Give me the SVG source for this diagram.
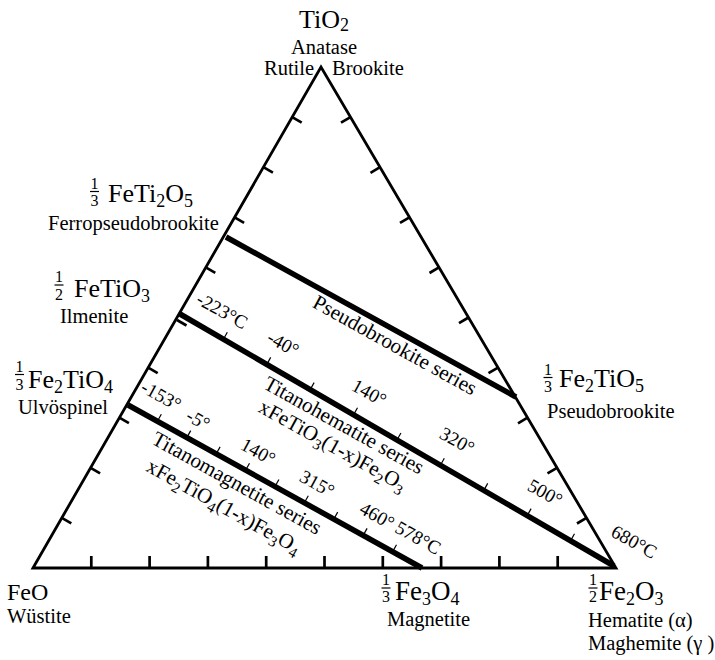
<svg xmlns="http://www.w3.org/2000/svg" width="715" height="660" viewBox="0 0 715 660">
<style>
.f{font-family:"Liberation Serif","Times New Roman",serif;fill:#000}
.fm{font-size:26px}
.fb{font-size:27px}
.sub{font-size:18px}
.nm{font-size:20.5px}
.fr{font-size:16px}
.tp{font-size:19px}
.sl{font-size:21px}
.ss{font-size:15px}
.edge{stroke:#000;stroke-width:2.8;fill:none;stroke-linejoin:miter}
.tk{stroke:#000;stroke-width:2.7}
.ser{stroke:#000;stroke-width:5.5}
.tt{stroke:#000;stroke-width:1.2}
.bar{stroke:#000;stroke-width:1.2}
</style>
<rect width="715" height="660" fill="#fff"/>
<g id="connectors">
  <polygon class="edge" points="33,568 321,67 616,568"/>
  <g id="edge-ticks">
    <line class="tk" x1="61.8" y1="517.9" x2="71.3" y2="523.4"/>
    <line class="tk" x1="90.6" y1="467.8" x2="100.1" y2="473.3"/>
    <line class="tk" x1="119.4" y1="417.7" x2="128.9" y2="423.2"/>
    <line class="tk" x1="148.2" y1="367.6" x2="157.7" y2="373.1"/>
    <line class="tk" x1="177" y1="320" x2="186.5" y2="325.5"/>
    <line class="tk" x1="205.8" y1="267.4" x2="215.3" y2="272.9"/>
    <line class="tk" x1="234.6" y1="217.3" x2="244.1" y2="222.8"/>
    <line class="tk" x1="263.4" y1="167.2" x2="272.9" y2="172.7"/>
    <line class="tk" x1="292.2" y1="117.1" x2="301.7" y2="122.6"/>
    <line class="tk" x1="350.5" y1="117.1" x2="341" y2="122.7"/>
    <line class="tk" x1="380" y1="167.2" x2="370.5" y2="172.8"/>
    <line class="tk" x1="409.5" y1="217.3" x2="400" y2="222.9"/>
    <line class="tk" x1="439" y1="267.4" x2="429.5" y2="273"/>
    <line class="tk" x1="468.5" y1="317.5" x2="459" y2="323.1"/>
    <line class="tk" x1="498" y1="367.6" x2="488.5" y2="373.2"/>
    <line class="tk" x1="527.5" y1="417.7" x2="518" y2="423.3"/>
    <line class="tk" x1="557" y1="467.8" x2="547.5" y2="473.4"/>
    <line class="tk" x1="586.5" y1="517.9" x2="577" y2="523.5"/>
    <line class="tk" x1="91.3" y1="568" x2="91.3" y2="556"/>
    <line class="tk" x1="149.6" y1="568" x2="149.6" y2="556"/>
    <line class="tk" x1="207.9" y1="568" x2="207.9" y2="556"/>
    <line class="tk" x1="266.2" y1="568" x2="266.2" y2="556"/>
    <line class="tk" x1="324.5" y1="568" x2="324.5" y2="556"/>
    <line class="tk" x1="382.8" y1="568" x2="382.8" y2="556"/>
    <line class="tk" x1="441.1" y1="568" x2="441.1" y2="556"/>
    <line class="tk" x1="499.4" y1="568" x2="499.4" y2="556"/>
    <line class="tk" x1="557.7" y1="568" x2="557.7" y2="556"/>
  </g>
  <g id="pseudobrookite-series">
    <line class="ser" x1="226" y1="237" x2="516" y2="397"/>
    <text class="f sl" transform="translate(395,345) rotate(29)" text-anchor="middle" y="7">Pseudobrookite series</text>
  </g>
  <g id="titanohematite-series">
    <line class="ser" x1="180" y1="314" x2="614" y2="566"/>
    <line class="tt" x1="223.4" y1="339.2" x2="227.3" y2="332.2"/>
    <line class="tt" x1="266.8" y1="364.4" x2="270.7" y2="357.4"/>
    <line class="tt" x1="310.2" y1="389.6" x2="314.1" y2="382.6"/>
    <line class="tt" x1="353.6" y1="414.8" x2="357.5" y2="407.8"/>
    <line class="tt" x1="397" y1="440" x2="400.9" y2="433"/>
    <line class="tt" x1="440.4" y1="465.2" x2="444.3" y2="458.2"/>
    <line class="tt" x1="483.8" y1="490.4" x2="487.7" y2="483.4"/>
    <line class="tt" x1="527.2" y1="515.6" x2="531.1" y2="508.6"/>
    <line class="tt" x1="570.6" y1="540.8" x2="574.5" y2="533.8"/>
    <text class="f tp" transform="translate(222,311) rotate(29)" text-anchor="middle" y="6">-223°C</text>
    <text class="f tp" transform="translate(283,344) rotate(29)" text-anchor="middle" y="6">-40°</text>
    <text class="f tp" transform="translate(369,393) rotate(29)" text-anchor="middle" y="6">140°</text>
    <text class="f tp" transform="translate(457,441) rotate(29)" text-anchor="middle" y="6">320°</text>
    <text class="f tp" transform="translate(545,493) rotate(29)" text-anchor="middle" y="6">500°</text>
    <text class="f tp" transform="translate(634,542) rotate(29)" text-anchor="middle" y="6">680°C</text>
    <text class="f sl" transform="translate(344,425) rotate(29)" text-anchor="middle" y="7">Titanohematite series</text>
    <text class="f sl" transform="translate(332,447) rotate(29)" text-anchor="middle" y="5">xFeTiO<tspan class="ss" dy="5">3</tspan><tspan dy="-5">(1-x)Fe</tspan><tspan class="ss" dy="5">2</tspan><tspan dy="-5">O</tspan><tspan class="ss" dy="5">3</tspan></text>
  </g>
  <g id="titanomagnetite-series">
    <line class="ser" x1="128" y1="405" x2="422" y2="568"/>
    <line class="tt" x1="157.4" y1="421.3" x2="161.3" y2="414.3"/>
    <line class="tt" x1="186.8" y1="437.6" x2="190.7" y2="430.6"/>
    <line class="tt" x1="216.2" y1="453.9" x2="220.1" y2="446.9"/>
    <line class="tt" x1="245.6" y1="470.2" x2="249.5" y2="463.2"/>
    <line class="tt" x1="275" y1="486.5" x2="278.9" y2="479.5"/>
    <line class="tt" x1="304.4" y1="502.8" x2="308.3" y2="495.8"/>
    <line class="tt" x1="333.8" y1="519.1" x2="337.7" y2="512.1"/>
    <line class="tt" x1="363.2" y1="535.4" x2="367.1" y2="528.4"/>
    <line class="tt" x1="392.6" y1="551.7" x2="396.5" y2="544.7"/>
    <text class="f tp" transform="translate(161,396) rotate(29)" text-anchor="middle" y="6">-153°</text>
    <text class="f tp" transform="translate(198,420) rotate(29)" text-anchor="middle" y="6">-5°</text>
    <text class="f tp" transform="translate(258,452) rotate(29)" text-anchor="middle" y="6">140°</text>
    <text class="f tp" transform="translate(317,484) rotate(29)" text-anchor="middle" y="6">315°</text>
    <text class="f tp" transform="translate(377,516) rotate(29)" text-anchor="middle" y="6">460°</text>
    <text class="f tp" transform="translate(418,538) rotate(29)" text-anchor="middle" y="6">578°C</text>
    <text class="f sl" transform="translate(237,483) rotate(29)" text-anchor="middle" y="7">Titanomagnetite series</text>
    <text class="f sl" transform="translate(223,508) rotate(29)" text-anchor="middle" y="5">xFe<tspan class="ss" dy="5">2</tspan><tspan dy="-5">TiO</tspan><tspan class="ss" dy="5">4</tspan><tspan dy="-5">(1-x)Fe</tspan><tspan class="ss" dy="5">3</tspan><tspan dy="-5">O</tspan><tspan class="ss" dy="5">4</tspan></text>
  </g>
</g>
<g id="node-TiO2">
  <text class="f fm" x="299" y="28">TiO<tspan class="sub" dy="3">2</tspan></text>
  <text class="f nm" x="324" y="54" text-anchor="middle">Anatase</text>
  <text class="f nm" x="264" y="75">Rutile</text>
  <text class="f nm" x="332" y="75">Brookite</text>
</g>
<g id="node-FeTi2O5">
  <text class="f fr" x="94.5" y="189" text-anchor="middle">1</text>
  <line class="bar" x1="90" y1="191.5" x2="99" y2="191.5"/>
  <text class="f fr" x="94.5" y="206" text-anchor="middle">3</text>
  <text class="f fm" x="108" y="202">FeTi<tspan class="sub" dy="5">2</tspan><tspan dy="-5">O</tspan><tspan class="sub" dy="5">5</tspan></text>
  <text class="f nm" x="48" y="230">Ferropseudobrookite</text>
</g>
<g id="node-FeTiO3">
  <text class="f fr" x="59" y="282" text-anchor="middle">1</text>
  <line class="bar" x1="54.5" y1="285" x2="63.5" y2="285"/>
  <text class="f fr" x="59" y="300" text-anchor="middle">2</text>
  <text class="f fm" x="74" y="297">FeTiO<tspan class="sub" dy="5">3</tspan></text>
  <text class="f nm" x="60" y="323">Ilmenite</text>
</g>
<g id="node-Fe2TiO4">
  <text class="f fr" x="19.5" y="372" text-anchor="middle">1</text>
  <line class="bar" x1="15" y1="374.5" x2="24" y2="374.5"/>
  <text class="f fr" x="19.5" y="390" text-anchor="middle">3</text>
  <text class="f fm" x="28" y="388">Fe<tspan class="sub" dy="5">2</tspan><tspan dy="-5">TiO</tspan><tspan class="sub" dy="5">4</tspan></text>
  <text class="f nm" x="18" y="414">Ulvöspinel</text>
</g>
<g id="node-Fe2TiO5">
  <text class="f fr" x="548" y="375" text-anchor="middle">1</text>
  <line class="bar" x1="543.5" y1="377.5" x2="552.5" y2="377.5"/>
  <text class="f fr" x="548" y="392" text-anchor="middle">3</text>
  <text class="f fm" x="559" y="387">Fe<tspan class="sub" dy="5">2</tspan><tspan dy="-5">TiO</tspan><tspan class="sub" dy="5">5</tspan></text>
  <text class="f nm" x="547" y="418">Pseudobrookite</text>
</g>
<g id="node-FeO">
  <text class="f" style="font-size:24px" x="7" y="600">FeO</text>
  <text class="f nm" x="7" y="623">Wüstite</text>
</g>
<g id="node-Fe3O4">
  <text class="f fr" x="386" y="585" text-anchor="middle">1</text>
  <line class="bar" x1="381.5" y1="588" x2="390.5" y2="588"/>
  <text class="f fr" x="386" y="602" text-anchor="middle">3</text>
  <text class="f fb" x="395" y="600">Fe<tspan class="sub" dy="5">3</tspan><tspan dy="-5">O</tspan><tspan class="sub" dy="5">4</tspan></text>
  <text class="f nm" x="387" y="626">Magnetite</text>
</g>
<g id="node-Fe2O3">
  <text class="f fr" x="593" y="585" text-anchor="middle">1</text>
  <line class="bar" x1="588.5" y1="588" x2="597.5" y2="588"/>
  <text class="f fr" x="593" y="602" text-anchor="middle">2</text>
  <text class="f fb" x="599" y="600">Fe<tspan class="sub" dy="5">2</tspan><tspan dy="-5">O</tspan><tspan class="sub" dy="5">3</tspan></text>
  <text class="f nm" x="588" y="627">Hematite (α)</text>
  <text class="f nm" x="588" y="650">Maghemite (γ )</text>
</g>
</svg>
